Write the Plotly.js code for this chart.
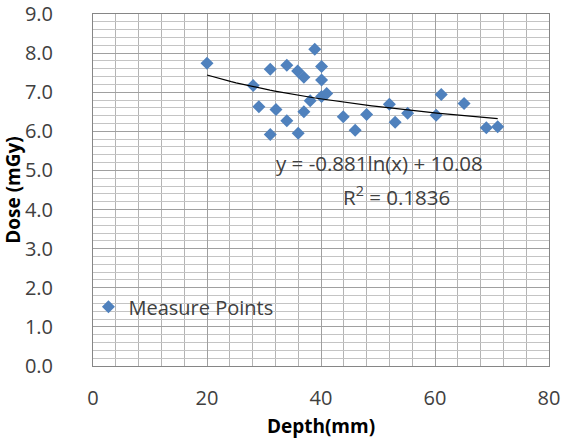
<!DOCTYPE html>
<html>
<head>
<meta charset="utf-8">
<script src="https://cdn.plot.ly/plotly-3.0.1.min.js"></script>
<style>html,body{margin:0;padding:0;background:#fff;}#chart{width:567px;height:444px;}</style>
</head>
<body>
<div id="chart"></div>
<script>
const depth = [20.0, 28.1, 29.1, 31.1, 31.1, 32.1, 34.0, 34.0, 35.9, 36.0, 37.0, 37.0, 38.1, 38.9, 40.1, 40.1, 40.1, 41.0, 43.9, 46.0, 48.0, 52.0, 53.0, 55.2, 60.2, 61.1, 65.1, 69.0, 71.0];
const dose  = [7.74, 7.17, 6.63, 7.59, 5.92, 6.56, 7.69, 6.27, 7.54, 5.95, 7.38, 6.50, 6.78, 8.10, 7.66, 7.31, 6.89, 6.97, 6.37, 6.03, 6.43, 6.69, 6.23, 6.46, 6.41, 6.94, 6.71, 6.09, 6.12];
const seriesName = "Measure Points";
// Logarithmic trendline coefficients as printed on the chart
const trendA = -0.881;
const trendB = 10.08;
const trendR2 = 0.1836;
const xTickVals = [0, 20, 40, 60, 80];
const yTickVals = [0, 1, 2, 3, 4, 5, 6, 7, 8, 9];

const xMin = Math.min(...depth), xMax = Math.max(...depth);
const tx = [], ty = [];
for (let i = 0; i <= 60; i++) {
  const x = xMin + (xMax - xMin) * i / 60;
  tx.push(x); ty.push(trendA * Math.log(x) + trendB);
}

const font = "'Open Sans', sans-serif";
const data = [
  {x: depth, y: dose, type: 'scatter', mode: 'markers', name: seriesName,
   marker: {symbol: 'diamond', size: 10, color: '#4F81BD'}},
  {x: tx, y: ty, type: 'scatter', mode: 'lines', showlegend: false,
   line: {color: '#000000', width: 1.2}, hoverinfo: 'skip'}
];
const layout = {
  width: 567, height: 444,
  margin: {l: 93, r: 18, t: 14, b: 78},
  paper_bgcolor: '#ffffff', plot_bgcolor: '#ffffff',
  font: {family: font, color: '#404040', size: 20},
  showlegend: true,
  legend: {x: -0.01, y: 0.168, xanchor: 'left', yanchor: 'middle', bgcolor: 'rgba(0,0,0,0)',
           font: {size: 20, color: '#404040'}, itemwidth: 30},
  xaxis: {range: [0, 80], tickvals: xTickVals, ticktext: xTickVals.map(String),
          showgrid: true, gridcolor: '#a0a0a0', gridwidth: 1,
          minor: {dtick: 4, tick0: 0, showgrid: true, gridcolor: '#b4b4b4', gridwidth: 1},
          showline: true, linecolor: '#868686', mirror: true, zeroline: false,
          ticks: '', ticklabelstandoff: 14, tickfont: {size: 20, color: '#404040'},
          title: {text: '<b>Depth(mm)</b>', font: {size: 19, color: '#000000'}, standoff: 9}},
  yaxis: {range: [0, 9], tickvals: yTickVals, ticktext: yTickVals.map(v => v.toFixed(1)),
          showgrid: true, gridcolor: '#a0a0a0', gridwidth: 1,
          minor: {dtick: 0.2, tick0: 0, showgrid: true, gridcolor: '#c4c4c4', gridwidth: 1},
          showline: true, linecolor: '#868686', mirror: true, zeroline: false,
          ticks: '', ticklabelstandoff: 35, tickfont: {size: 20, color: '#404040'},
          title: {text: '<b>Dose (mGy)</b>', font: {size: 19, color: '#000000'}, standoff: 4}},
  annotations: [
    {x: 379, y: 179, yanchor: 'bottom', xref: 'paper', yref: 'paper', text: 'y = ' + trendA + 'ln(x) + ' + trendB.toFixed(2),
     showarrow: false, font: {size: 20.5, color: '#404040'}},
    {x: 396, y: 179, yanchor: 'top', xref: 'paper', yref: 'paper', text: 'R<sup>2</sup> = ' + trendR2,
     showarrow: false, font: {size: 20.5, color: '#404040'}}
  ]
};
// convert pixel annotation positions to paper coords
const pw = 567 - 93 - 18, ph = 444 - 14 - 78;
layout.annotations.forEach(a => { a.x = (a.x - 93) / pw; a.y = 1 - (a.y - 14) / ph; });
Plotly.newPlot('chart', data, layout, {displayModeBar: false});
</script>
</body>
</html>
